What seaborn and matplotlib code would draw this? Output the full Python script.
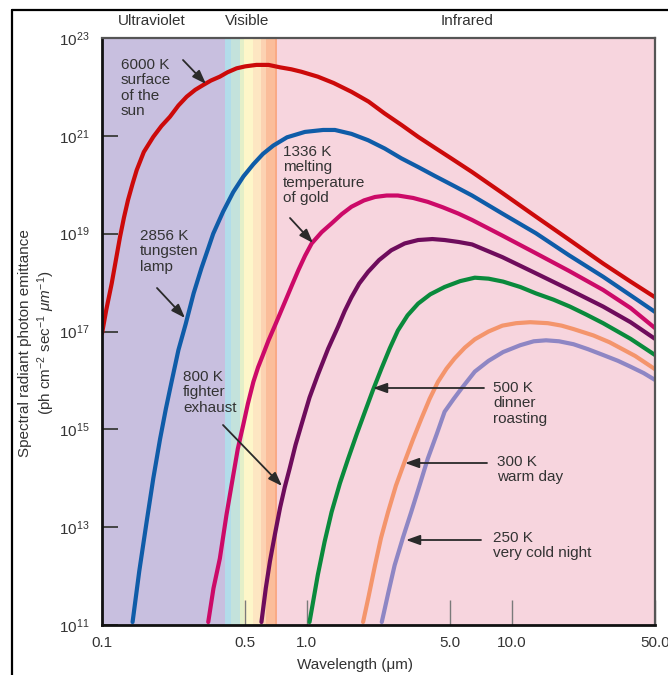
import numpy as np
import pandas as pd
import matplotlib
matplotlib.use("Agg")
import matplotlib.pyplot as plt
import seaborn as sns
from matplotlib.lines import Line2D
from matplotlib.ticker import NullLocator

sns.set_theme(style="white")
plt.rcParams["font.family"] = ["Liberation Sans", "DejaVu Sans"]
plt.rcParams["mathtext.fontset"] = "custom"
plt.rcParams["mathtext.rm"] = "Liberation Sans"
plt.rcParams["mathtext.it"] = "Liberation Sans:italic"

# ---------------- data (wavelength in micrometres, log10 of emittance) ----------------
wl_6000 = [0.100, 0.105, 0.1115, 0.1224, 0.128, 0.134, 0.141, 0.1477, 0.16, 0.178, 0.195,
           0.2146, 0.236, 0.259, 0.285, 0.312, 0.34, 0.376, 0.41, 0.454, 0.50, 0.567, 0.65,
           0.74, 0.84, 0.94, 1.13, 1.35, 1.65, 2.0, 2.39, 2.9, 3.49, 4.2, 5.06, 6.4, 9.0,
           13.1, 19.0, 27.9, 38.0, 50.0]
em_6000 = [16.96, 17.45, 17.98, 18.93, 19.33, 19.69, 20.02, 20.30, 20.67, 20.98, 21.20,
           21.39, 21.62, 21.80, 21.94, 22.04, 22.13, 22.21, 22.30, 22.38, 22.42, 22.45, 22.45,
           22.40, 22.36, 22.31, 22.21, 22.08, 21.90, 21.70, 21.46, 21.22, 20.98, 20.76, 20.54,
           20.26, 19.83, 19.35, 18.88, 18.39, 18.02, 17.70]

wl_2856 = [0.141, 0.152, 0.165, 0.178, 0.192, 0.205, 0.218, 0.236, 0.256, 0.28, 0.306, 0.33,
           0.349, 0.39, 0.437, 0.49, 0.548, 0.61, 0.685, 0.80, 0.978, 1.2, 1.37, 1.65, 1.99,
           2.4, 2.89, 3.5, 4.21, 5.2, 6.4, 9.0, 13.1, 19.0, 27.9, 38.0, 50.0]
em_2856 = [11.06, 12.10, 13.10, 14.00, 14.80, 15.42, 15.95, 16.62, 17.15, 17.78, 18.30, 18.70,
           19.00, 19.45, 19.85, 20.17, 20.42, 20.63, 20.80, 20.97, 21.08, 21.12, 21.12, 21.04,
           20.91, 20.74, 20.54, 20.36, 20.18, 19.98, 19.78, 19.41, 19.01, 18.56, 18.12, 17.74,
           17.40]

wl_1336 = [0.33, 0.35, 0.376, 0.405, 0.437, 0.46, 0.489, 0.515, 0.548, 0.578, 0.61, 0.65,
           0.698, 0.745, 0.795, 0.85, 0.91, 0.98, 1.055, 1.18, 1.32, 1.48, 1.65, 1.9, 2.15,
           2.45, 2.78, 3.3, 3.89, 4.6, 5.49, 6.4, 9.0, 13.1, 19.0, 27.9, 38.0, 50.0]
em_1336 = [11.06, 11.75, 12.36, 13.25, 14.06, 14.60, 15.09, 15.52, 15.97, 16.27, 16.52, 16.82,
           17.12, 17.40, 17.68, 17.97, 18.26, 18.55, 18.80, 19.03, 19.21, 19.40, 19.55, 19.68,
           19.75, 19.78, 19.78, 19.73, 19.65, 19.54, 19.41, 19.28, 18.96, 18.60, 18.24, 17.85,
           17.48, 17.07]

wl_800 = [0.60, 0.63, 0.66, 0.70, 0.74, 0.78, 0.824, 0.88, 0.94, 1.03, 1.13, 1.27, 1.42, 1.53,
          1.65, 1.8, 1.99, 2.25, 2.58, 3.0, 3.49, 4.1, 4.7, 5.5, 6.4, 9.0, 13.1, 19.0, 27.9,
          38.0, 50.0]
em_800 = [11.06, 11.75, 12.30, 12.88, 13.40, 13.82, 14.20, 14.68, 15.09, 15.65, 16.11, 16.65,
          17.10, 17.42, 17.70, 17.98, 18.22, 18.46, 18.66, 18.80, 18.87, 18.89, 18.87, 18.83,
          18.78, 18.52, 18.19, 17.86, 17.51, 17.19, 16.85]

wl_500 = [1.03, 1.08, 1.13, 1.22, 1.32, 1.45, 1.59, 1.75, 1.92, 2.1, 2.31, 2.54, 2.78, 3.1,
          3.49, 4.0, 4.7, 5.6, 6.6, 7.7, 9.07, 11.0, 13.1, 16.0, 19.2, 23.0, 27.9, 38.0, 50.0]
em_500 = [11.06, 11.55, 12.02, 12.70, 13.31, 13.90, 14.40, 14.90, 15.36, 15.80, 16.24, 16.66,
          17.02, 17.33, 17.57, 17.76, 17.91, 18.03, 18.10, 18.08, 18.02, 17.91, 17.78, 17.65,
          17.51, 17.35, 17.17, 16.85, 16.52]

wl_300 = [1.88, 2.0, 2.15, 2.3, 2.49, 2.72, 3.0, 3.3, 3.62, 3.97, 4.36, 4.8, 5.26, 5.9, 6.6,
          7.7, 9.0, 10.5, 12.3, 15.0, 17.5, 20.0, 25.0, 30.0, 40.0, 50.0]
em_300 = [11.06, 11.58, 12.22, 12.78, 13.31, 13.85, 14.34, 14.80, 15.22, 15.62, 15.97, 16.24,
          16.45, 16.67, 16.84, 17.00, 17.12, 17.17, 17.19, 17.17, 17.12, 17.05, 16.92, 16.78,
          16.50, 16.23]

wl_250 = [2.32, 2.5, 2.68, 2.95, 3.23, 3.55, 3.89, 4.3, 4.7, 5.2, 5.67, 6.6, 7.7, 9.07, 11.0,
          12.8, 14.7, 17.0, 20.0, 23.5, 27.9, 33.0, 38.0, 44.0, 50.0]
em_250 = [11.06, 11.67, 12.22, 12.80, 13.31, 13.86, 14.40, 14.90, 15.36, 15.62, 15.83, 16.18,
          16.40, 16.58, 16.72, 16.80, 16.82, 16.80, 16.74, 16.64, 16.52, 16.40, 16.28, 16.15,
          16.01]

series_names = ["6000 K", "2856 K", "1336 K", "800 K", "500 K", "300 K", "250 K"]
series_wl = [wl_6000, wl_2856, wl_1336, wl_800, wl_500, wl_300, wl_250]
series_em = [em_6000, em_2856, em_1336, em_800, em_500, em_300, em_250]
series_colors = ["#cc0a0a", "#0f5ca8", "#cc0a68", "#6e0c5c", "#0a8a3c", "#f4956c", "#8e86c4"]

x_ticks = [0.1, 0.5, 1.0, 5.0, 10.0, 50.0]
x_ticklabels = ["0.1", "0.5", "1.0", "5.0", "10.0", "50.0"]
y_exps = [11, 13, 15, 17, 19, 21, 23]

# spectral band edges (micrometres) and colours
uv_band = (0.1, 0.398)
ir_band = (0.714, 50.0)
vis_edges = [0.398, 0.424, 0.470, 0.494, 0.548, 0.600, 0.634, 0.695, 0.714]
vis_colors = ["#b2dcea", "#c3e2dc", "#e3efc8", "#fdf6c9", "#fde6c2", "#fcd2b2", "#fbbd9a", "#f9aa86"]

rows = []
for name, w, e in zip(series_names, series_wl, series_em):
    for wi, ei in zip(w, e):
        rows.append({"curve": name, "wavelength": wi, "emittance": 10.0 ** ei})
df = pd.DataFrame(rows)

# ---------------- figure ----------------
W, H = 668, 675
fig = plt.figure(figsize=(W / 100, H / 100), dpi=100)
fig.patch.set_facecolor("white")
ax = fig.add_axes([102 / W, 50 / H, 553 / W, 587 / H])

ax.axvspan(*uv_band, color="#c8bfdf", zorder=0, lw=0)
ax.axvspan(*ir_band, color="#f7d5de", zorder=0, lw=0)
for i, c in enumerate(vis_colors):
    ax.axvspan(vis_edges[i], vis_edges[i + 1], color=c, zorder=0, lw=0)

sns.lineplot(data=df, x="wavelength", y="emittance", hue="curve", hue_order=series_names,
             palette=series_colors, estimator=None, sort=False, linewidth=3.0,
             legend=False, ax=ax, zorder=3)
for ln in ax.get_lines():
    ln.set_solid_joinstyle("round")
    ln.set_solid_capstyle("round")

ax.set_xscale("log")
ax.set_yscale("log")
ax.set_xlim(0.1, 50)
ax.set_ylim(1e11, 1e23)
ax.set_xlabel("")
ax.set_ylabel("")
ax.set_xticks(x_ticks)
ax.set_xticklabels(x_ticklabels)
ax.set_yticks([10.0 ** e for e in y_exps])
ax.set_yticklabels([r"$10^{%d}$" % e for e in y_exps])
ax.xaxis.set_minor_locator(NullLocator())
ax.yaxis.set_minor_locator(NullLocator())
ax.tick_params(axis="y", direction="in", length=11.5, width=1.4, color="#444444",
               pad=9, labelsize=11, labelcolor="#333333", left=True)
ax.tick_params(axis="x", direction="in", length=18, width=1.0, color="#7a7a7a",
               pad=8, labelsize=11, labelcolor="#333333", bottom=True)
ax.grid(False)
for side in ["left", "bottom"]:
    ax.spines[side].set_color("#111111")
    ax.spines[side].set_linewidth(2.0)
for side in ["top", "right"]:
    ax.spines[side].set_color("#555555")
    ax.spines[side].set_linewidth(1.6)
for s in ax.spines.values():
    s.set_zorder(5)


def ftext(px, py, s, **kw):
    kw.setdefault("fontsize", 11)
    kw.setdefault("color", "#333333")
    return fig.text(px / W, 1 - py / H, s, **kw)


def arrow(tail, tip):
    ax.annotate("", xy=(tip[0], H - tip[1]), xycoords="figure pixels",
                xytext=(tail[0], H - tail[1]), textcoords="figure pixels",
                arrowprops=dict(arrowstyle="-|>,head_length=0.7,head_width=0.25",
                                color="#2a2a2a", lw=1.3, shrinkA=0, shrinkB=0),
                zorder=6)


# band labels
ftext(152, 21, "Ultraviolet", ha="center", va="center")
ftext(247, 21, "Visible", ha="center", va="center")
ftext(467, 21, "Infrared", ha="center", va="center")

# curve annotations
ls = 1.12
ftext(121, 58, "6000 K\nsurface\nof the\nsun", ha="left", va="top", linespacing=ls)
ftext(140, 229, "2856 K\ntungsten\nlamp", ha="left", va="top", linespacing=ls)
ftext(283, 145, "1336 K\nmelting\ntemperature\nof gold", ha="left", va="top", linespacing=ls)
ftext(183, 370, "800 K\nfighter\nexhaust", ha="left", va="top", linespacing=ls)
ftext(493, 381, "500 K\ndinner\nroasting", ha="left", va="top", linespacing=ls)
ftext(497, 455, "300 K\nwarm day", ha="left", va="top", linespacing=ls)
ftext(493, 531, "250 K\nvery cold night", ha="left", va="top", linespacing=ls)

arrow((183, 60), (206, 84))
arrow((157, 288), (185, 318))
arrow((290, 218), (313, 243))
arrow((223, 425), (282, 486))
arrow((484, 388), (373, 388))
arrow((487, 463), (405, 463))
arrow((481, 540), (406, 540))

# axis titles
ftext(355, 665, "Wavelength (\u03bcm)", ha="center", va="center")
ftext(25, 343, "Spectral radiant photon emittance", ha="center", va="center", rotation=90)
ftext(46, 343, r"(ph cm$^{-2}$ sec$^{-1}$ $\mu m^{-1}$)", ha="center", va="center", rotation=90)

# outer frame
fig.add_artist(Line2D([12 / W, 1.0], [1 - 9.5 / H, 1 - 9.5 / H], transform=fig.transFigure,
                      color="black", lw=1.6))
fig.add_artist(Line2D([12 / W, 12 / W], [0.0, 1 - 9.5 / H], transform=fig.transFigure,
                      color="black", lw=1.6))

fig.savefig("out.png", dpi=100)
